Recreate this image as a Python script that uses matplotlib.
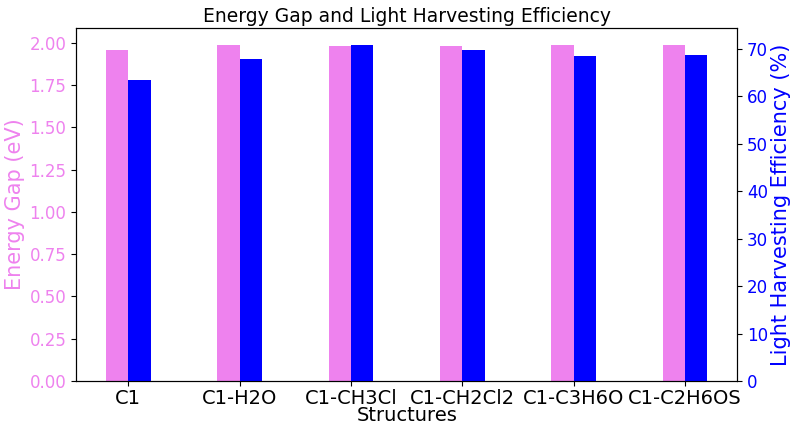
import matplotlib
matplotlib.use("Agg")
import matplotlib.pyplot as plt
from matplotlib.ticker import MultipleLocator, FormatStrFormatter
import numpy as np

structures = ["C1", "C1-H2O", "C1-CH3Cl", "C1-CH2Cl2", "C1-C3H6O", "C1-C2H6OS"]
energy_gap = [1.96, 1.99, 1.98, 1.985, 1.987, 1.99]
lhe = [63.4, 67.8, 70.9, 69.8, 68.6, 68.8]

width = 0.2
x = np.arange(len(structures))

fig, ax1 = plt.subplots(figsize=(7.92, 4.29), dpi=100)
fig.subplots_adjust(left=0.096, right=0.931, top=0.935, bottom=0.112)

ax1.bar(x, energy_gap, width, color="violet", label="Energy Gap")
ax1.set_xlabel("Structures", fontsize=14, labelpad=-1)
ax1.set_ylabel("Energy Gap (eV)", color="violet", fontsize=15, labelpad=3)
ax1.yaxis.set_major_locator(MultipleLocator(0.25))
ax1.yaxis.set_major_formatter(FormatStrFormatter("%.2f"))
ax1.tick_params(axis="y", labelcolor="violet", labelsize=12)
ax1.tick_params(axis="x", labelsize=14, pad=2)

ax2 = ax1.twinx()
ax2.bar(x + width, lhe, width, color="blue", label="Light Harvesting Efficiency")
ax2.set_ylabel("Light Harvesting Efficiency (%)", color="blue", fontsize=15, labelpad=2)
ax2.tick_params(axis="y", labelcolor="blue", labelsize=12)

ax1.set_xticks(x + width / 2)
ax1.set_xticklabels(structures)
plt.title("Energy Gap and Light Harvesting Efficiency", fontsize=13.5, pad=4)
plt.savefig("out.png", dpi=100)
